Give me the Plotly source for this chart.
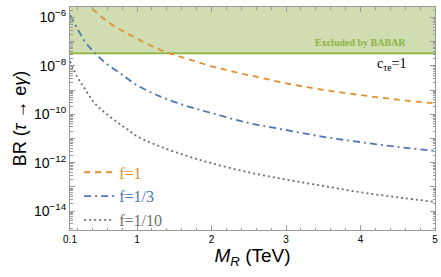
import plotly.graph_objects as go

# Data
M_f1 = [0.3, 0.367, 0.5, 0.635, 0.75, 0.86, 1.0, 1.2, 1.4, 1.6, 1.8, 2.0, 2.2, 2.4, 2.6, 3.0, 3.5, 4.0, 4.5, 5.0]
BR_f1 = [4.8e-6, 2.8e-6, 1.2e-6, 5.75e-7, 3.47e-7, 2.24e-7, 1.32e-7, 6.5e-8, 3.6e-8, 2.3e-8, 1.48e-8,
         9.5e-9, 6.8e-9, 4.8e-9, 3.55e-9, 1.9e-9, 1.02e-9, 6.2e-10, 4.0e-10, 2.8e-10]

M_f3 = [0.1, 0.2, 0.3, 0.4, 0.5, 0.6, 0.75, 0.86, 1.0, 1.3, 1.67, 2.0, 2.5, 3.0, 3.5, 4.0, 4.5, 5.0]
BR_f3 = [1.26e-6, 3.39e-7, 1.0e-7, 4.37e-8, 2.14e-8, 1.15e-8, 5.6e-9, 3.16e-9, 1.58e-9, 5.6e-10, 2.19e-10,
         1.12e-10, 4.37e-11, 2.24e-11, 1.17e-11, 7.1e-12, 4.47e-12, 3.09e-12]

M_f10 = [0.1, 0.2, 0.3, 0.4, 0.5, 0.6, 0.75, 0.86, 1.0, 1.3, 1.67, 2.0, 2.5, 3.0, 3.5, 4.0, 4.5, 5.0]
BR_f10 = [1.58e-8, 3.4e-9, 1.1e-9, 3.8e-10, 1.74e-10, 9.8e-11, 4.3e-11, 2.5e-11, 1.23e-11, 4.8e-12, 1.9e-12,
          9.5e-13, 4.0e-13, 2.0e-13, 1.1e-13, 6.0e-14, 3.7e-14, 2.4e-14]

BABAR_limit = 3.3e-8
BABAR_top = 1e-5
x_range = [0.1, 5.0]

x_tickvals = [0.1, 1, 2, 3, 4, 5]
x_ticktext = ["0.1", "1", "2", "3", "4", "5"]
y_exponents = list(range(-15, -4))
y_labeled = [-14, -12, -10, -8, -6]

ORANGE = "#e0902c"
BLUE = "#4f76b5"
GRAY = "#707070"
GREEN_FILL = "#d0ddb0"
GREEN_LINE = "#8ab43c"
AXIS = "#9a9a9a"

fig = go.Figure()

# excluded region
fig.add_trace(go.Scatter(
    x=[x_range[0], x_range[1], x_range[1], x_range[0], x_range[0]],
    y=[BABAR_limit, BABAR_limit, BABAR_top, BABAR_top, BABAR_limit],
    fill="toself", fillcolor=GREEN_FILL, line=dict(width=0),
    mode="lines", showlegend=False, hoverinfo="skip"))
fig.add_trace(go.Scatter(
    x=x_range, y=[BABAR_limit, BABAR_limit], mode="lines",
    line=dict(color=GREEN_LINE, width=1.8), showlegend=False, hoverinfo="skip"))

serif = "Liberation Serif"
fig.add_trace(go.Scatter(
    x=M_f1, y=BR_f1, mode="lines", line=dict(color=ORANGE, width=1.8, dash="6px,5px", shape="spline"),
    name=f"<span style='color:{ORANGE}'>f=1</span>"))
fig.add_trace(go.Scatter(
    x=M_f3, y=BR_f3, mode="lines", line=dict(color=BLUE, width=1.8, dash="7px,4px,2px,4px", shape="spline"),
    name=f"<span style='color:{BLUE}'>f=1/3</span>"))
fig.add_trace(go.Scatter(
    x=M_f10, y=BR_f10, mode="lines", line=dict(color=GRAY, width=1.8, dash="2px,3px", shape="spline"),
    name=f"<span style='color:{GRAY}'>f=1/10</span>"))

y_tickvals = [10.0 ** e for e in y_exponents]
y_ticktext = [f"10<sup>\u2212{-e}</sup>" if e in y_labeled else "" for e in y_exponents]
y_minor = [m * 10.0 ** e for e in y_exponents for m in range(2, 10)]

fig.update_layout(
    width=441, height=277,
    margin=dict(l=70, r=3, t=7, b=47),
    paper_bgcolor="white", plot_bgcolor="white",
    font=dict(family="Liberation Sans", color="black"),
    showlegend=True,
    legend=dict(x=0.025, y=-0.033, xanchor="left", yanchor="bottom",
                bgcolor="rgba(0,0,0,0)", font=dict(family=serif, size=16),
                tracegroupgap=0, itemwidth=30),
    xaxis=dict(
        range=x_range, showgrid=False, zeroline=False,
        showline=True, linecolor=AXIS, linewidth=1, mirror="allticks",
        ticks="inside", ticklen=5, tickcolor=AXIS,
        tickmode="array", tickvals=x_tickvals, ticktext=x_ticktext,
        tickfont=dict(size=10, color="black"), ticklabeloverflow="allow",
        minor=dict(ticks="inside", ticklen=2.5, tickcolor=AXIS, dtick=0.2, tick0=0),
        title=dict(text="<i>M</i><sub><i>R</i></sub> (TeV)", font=dict(size=19), standoff=4)),
    yaxis=dict(
        type="log", range=[-14.78, -5.57], showgrid=False, zeroline=False,
        showline=True, linecolor=AXIS, linewidth=1, mirror="allticks",
        ticks="inside", ticklen=5, tickcolor=AXIS,
        tickmode="array", tickvals=y_tickvals, ticktext=y_ticktext,
        tickfont=dict(size=14, color="black"),
        minor=dict(ticks="inside", ticklen=2.5, tickcolor=AXIS, tickvals=y_minor),
        title=dict(text="BR (<i>\u03c4</i> \u2192 e<i>\u03b3</i>)", font=dict(size=18), standoff=2)),
    annotations=[
        dict(xref="paper", yref="y", x=0.925, y=-7.33, text="<b>Excluded by BABAR</b>",
             showarrow=False, xanchor="right", yanchor="bottom",
             font=dict(family=serif, size=10, color=GREEN_LINE)),
        dict(xref="paper", yref="y", x=0.925, y=-7.95, text="c<sub>\u03c4e</sub>=1",
             showarrow=False, xanchor="right", yanchor="middle",
             font=dict(family=serif, size=14, color="black")),
    ],
)

fig.write_html("out.html", config={"displayModeBar": False})

# remove the default page margin so the 441x277 figure fits the window exactly
with open("out.html", "r", encoding="utf-8") as fh:
    html = fh.read()
html = html.replace("<body>", "<body style=\"margin:0;padding:0;overflow:hidden\">", 1)
with open("out.html", "w", encoding="utf-8") as fh:
    fh.write(html)
